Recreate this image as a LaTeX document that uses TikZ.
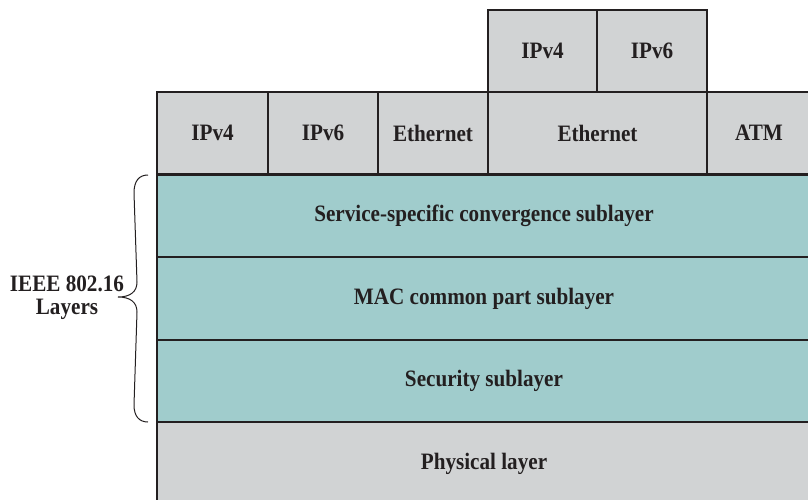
\documentclass[tikz,border=0pt]{standalone}
\usepackage{fontspec}
\setmainfont{Liberation Serif}[FakeStretch=0.9]
\definecolor{ink}{HTML}{231F20}
\definecolor{greyfill}{HTML}{D1D3D4}
\definecolor{tealfill}{HTML}{A0CCCC}
\begin{document}
\begin{tikzpicture}[x=1pt,y=-1pt,
  layerbox/.style={draw=ink, line width=2.2pt, inner sep=0pt, outer sep=0pt, anchor=north west,
    font=\bfseries\fontsize{23.5}{26}\selectfont, text=ink},
  greybox/.style={layerbox, fill=greyfill},
  tealbox/.style={layerbox, fill=tealfill},
  labeltext/.style={font=\bfseries\fontsize{23.5}{23}\selectfont, text=ink, align=center, inner sep=0pt}]
\clip (0,0) rectangle (808,499);
% top row
\node[greybox, minimum width=109pt, minimum height=82pt] (tipv4) at (488,10) {IPv4};
\node[greybox, minimum width=110pt, minimum height=82pt] (tipv6) at (597,10) {IPv6};
% second row
\node[greybox, minimum width=111pt, minimum height=82pt] (ipv4) at (157,92) {IPv4};
\node[greybox, minimum width=110pt, minimum height=82pt] (ipv6) at (268,92) {IPv6};
\node[greybox, minimum width=110pt, minimum height=82pt] (eth1) at (378,92) {Ethernet};
\node[greybox, minimum width=219pt, minimum height=82pt] (eth2) at (488,92) {Ethernet};
\node[greybox, minimum width=104pt, minimum height=82pt] (atm) at (707,92) {ATM};
% sublayers
\node[tealbox, minimum width=654pt, minimum height=82pt] (cs) at (157,175) {Service-specific convergence sublayer};
\node[tealbox, minimum width=654pt, minimum height=83pt] (mac) at (157,257) {MAC common part sublayer};
\node[tealbox, minimum width=654pt, minimum height=82pt] (sec) at (157,340) {Security sublayer};
\node[greybox, minimum width=654pt, minimum height=83pt] (phy) at (157,422) {Physical layer};
% brace
\draw[ink, line width=1pt]
  (148,175) .. controls (139,175) and (134,181) .. (134,193)
  -- (137,282) .. controls (137,292) and (130,297) .. (118,297)
  .. controls (130,297) and (137,302) .. (137,312)
  -- (134,405) .. controls (134,416) and (139,422) .. (148,422);
\node[labeltext] (lbl) at (67,297.5) {IEEE 802.16\\Layers};
\end{tikzpicture}
\end{document}
